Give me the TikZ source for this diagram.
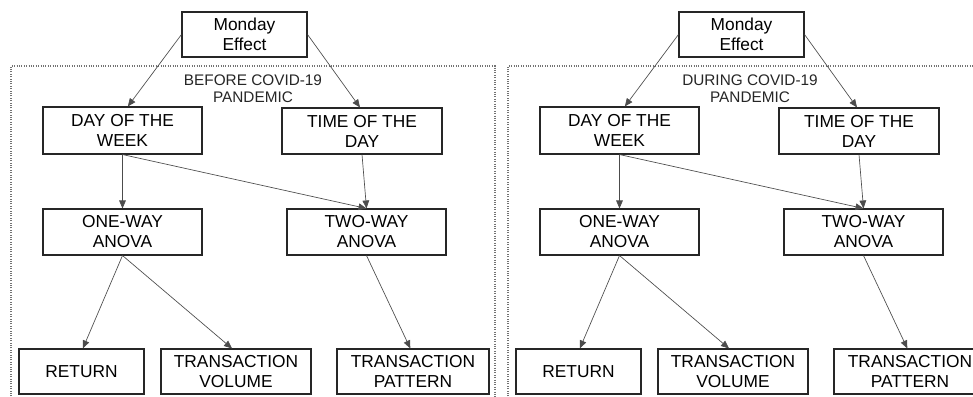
\documentclass[tikz,border=0pt]{standalone}
\usepackage{fontspec}
\setmainfont{Liberation Sans}
\usetikzlibrary{arrows.meta}
\tikzset{
  box/.style={draw=black!85, line width=0.8pt, inner sep=0pt, align=center,
    font=\fontsize{13}{15}\selectfont, text=black},
  bw/.style={minimum width=#1*0.75pt},
  bh/.style={minimum height=#1*0.75pt},
  arr/.style={draw=black!70, line width=0.5pt, -{Triangle[length=6pt,width=5pt]}},
  frame/.style={draw=black!55, line width=0.8pt, densely dotted},
  lbl/.style={align=center, font=\fontsize{11.5}{12.75}\selectfont, inner sep=0pt, text=black!85}
}
\newcommand\mkpanel[3]{%
  \begin{scope}[shift={(#2,0)}]
    \draw[frame] (11,430) -- (11,66) -- (495,66) -- (495,430);
    \node[lbl] (#1lbl) at (253,89) {#3\\PANDEMIC};
    \node[box,bw=125,bh=45] (#1mon) at (244.5,34.5) {Monday\\Effect};
    \node[box,bw=159,bh=47] (#1day) at (122.5,130.5) {DAY OF THE\\WEEK};
    \node[box,bw=160,bh=46] (#1time) at (362,131) {TIME OF THE\\DAY};
    \node[box,bw=159,bh=46] (#1one) at (122.5,232) {ONE-WAY\\ANOVA};
    \node[box,bw=159,bh=46] (#1two) at (366.5,232) {TWO-WAY\\ANOVA};
    \node[box,bw=125,bh=45] (#1ret) at (81.5,371.5) {RETURN};
    \node[box,bw=150,bh=45] (#1vol) at (236,371.5) {TRANSACTION\\VOLUME};
    \node[box,bw=152,bh=45] (#1pat) at (413,371.5) {TRANSACTION\\PATTERN};
    \draw[arr] (#1mon.west) -- ([xshift=4pt]#1day.north);
    \draw[arr] (#1mon.east) -- ([xshift=-1.5pt]#1time.north);
    \draw[arr] (#1day.south) -- (#1one.north);
    \draw[arr] (#1day.south) -- (#1two.north);
    \draw[arr] (#1time.south) -- (#1two.north);
    \draw[arr] (#1one.south) -- ([xshift=1pt]#1ret.north);
    \draw[arr] (#1one.south) -- ([xshift=-3pt]#1vol.north);
    \draw[arr] (#1two.south) -- ([xshift=-2pt]#1pat.north);
  \end{scope}%
}
\begin{document}
\begin{tikzpicture}[x=0.75pt,y=-0.75pt]
  \useasboundingbox (0,0) rectangle (973,396);
  \clip (0,0) rectangle (973,396);
  \fill[white] (0,0) rectangle (973,396);
  \mkpanel{a}{0}{BEFORE COVID-19}
  \mkpanel{b}{497}{DURING COVID-19}
\end{tikzpicture}
\end{document}
